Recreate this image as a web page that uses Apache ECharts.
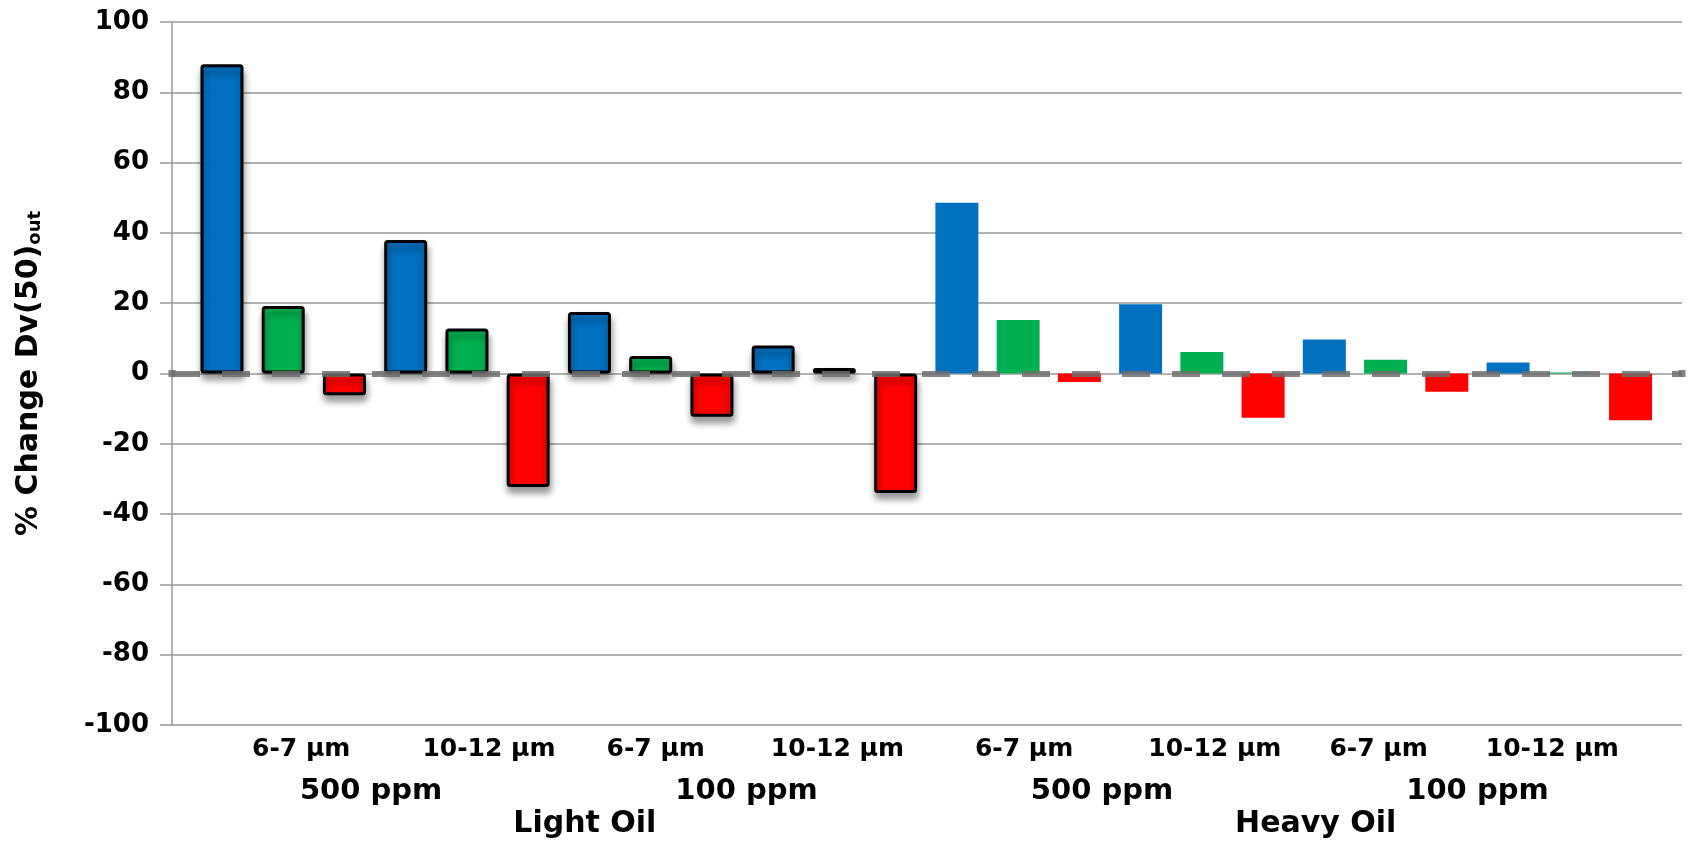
<!DOCTYPE html>
<html>
<head>
<meta charset="utf-8">
<script src="https://cdn.jsdelivr.net/npm/echarts@6/dist/echarts.min.js"></script>
<style>
  html, body { margin: 0; padding: 0; background: #fff; }
  #chart { width: 1696px; height: 845px; }
</style>
</head>
<body>
<div id="chart"></div>
<script>
// ---- data ----
const sizeLabels = ['6-7 µm', '10-12 µm', '6-7 µm', '10-12 µm', '6-7 µm', '10-12 µm', '6-7 µm', '10-12 µm'];
const concLabels = ['500 ppm', '100 ppm', '500 ppm', '100 ppm'];
const oilLabels = ['Light Oil', 'Heavy Oil'];
const blueValues = [88, 38, 17.5, 8, 48.6, 19.7, 9.7, 3.1];
const greenValues = [19.2, 12.8, 5, 1.6, 15.2, 6.1, 3.9, 0.3];
const redValues = [-6.2, -32.3, -12.3, -34, -2.4, -12.6, -5.2, -13.3];
const yMin = -100, yMax = 100, yStep = 20;

// ---- layout / style ----
const FONT = 'DejaVu Sans';
const colors = ['#0070C0', '#00B050', '#FF0000'];
const gridLeft = 172, gridRight = 14, gridTop = 22, gridBottom = 120;
const xMin = -0.816, xMax = 23.84;
const pxPerUnit = (1696 - gridLeft - gridRight) / (xMax - xMin);
// small horizontal nudges (px) of the hand-placed labels in the picture
const sizeNudge = [18, 22, 5, 3, 6, 13, -7, -17];
const concNudge = [-4, 4, -8, 0];
const oilNudge = [26, 22];

const nGroups = blueValues.length;
const sizePos = sizeLabels.map((_, g) => 3 * g + 1 + sizeNudge[g] / pxPerUnit);
const concPos = concLabels.map((_, p) => 6 * p + 2.5 + concNudge[p] / pxPerUnit);
const oilPos = oilLabels.map((_, o) => 12 * o + 5.5 + oilNudge[o] / pxPerUnit);

function lookup(positions, labels) {
  return function (v) {
    let best = 0, bd = Infinity;
    positions.forEach((p, i) => { const d = Math.abs(p - v); if (d < bd) { bd = d; best = i; } });
    return labels[best];
  };
}

function buildSeriesData(values, s) {
  return values.map((v, g) => {
    const light = g < nGroups / 2;
    const item = { value: [3 * g + s, v] };
    item.itemStyle = light ? {
      color: colors[s], borderColor: '#000', borderWidth: 3, borderRadius: 2,
      shadowColor: 'rgba(0,0,0,0.4)', shadowBlur: 7, shadowOffsetX: 1, shadowOffsetY: 6
    } : { color: colors[s], borderWidth: 0 };
    return item;
  });
}

function labelAxis(positions, labels, fontSize, margin) {
  return {
    type: 'value', min: xMin, max: xMax, position: 'bottom',
    axisLine: { show: false, onZero: false }, axisTick: { show: false }, splitLine: { show: false },
    axisLabel: {
      customValues: positions, formatter: lookup(positions, labels),
      fontFamily: FONT, fontWeight: 'bold', fontSize: fontSize, color: '#000', margin: margin,
      showMinLabel: true, showMaxLabel: true, hideOverlap: false
    }
  };
}

const seriesValues = [blueValues, greenValues, redValues];
const series = seriesValues.map((vals, s) => ({
  type: 'bar', xAxisIndex: 0, yAxisIndex: 0,
  barWidth: 43, barGap: '-100%',
  data: buildSeriesData(vals, s),
  z: 2
}));
series[0].markLine = {
  silent: true, animation: false,
  symbol: ['rect', 'rect'], symbolSize: 7,
  label: { show: false },
  lineStyle: { type: [28, 22], width: 6, color: 'rgba(110,110,110,0.85)' },
  data: [{ yAxis: 0 }]
};

const chart = echarts.init(document.getElementById('chart'), null, { renderer: 'canvas' });
chart.setOption({
  animation: false,
  backgroundColor: '#fff',
  grid: { left: gridLeft, right: gridRight, top: gridTop, bottom: gridBottom, containLabel: false, outerBoundsMode: 'none' },
  xAxis: [
    { type: 'value', min: xMin, max: xMax, show: false, axisLine: { onZero: false } },
    labelAxis(sizePos, sizeLabels, 25, 12),
    labelAxis(concPos, concLabels, 29, 52),
    labelAxis(oilPos, oilLabels, 30, 84)
  ],
  yAxis: {
    type: 'value', min: yMin, max: yMax, interval: yStep,
    axisLine: { show: true, onZero: false, lineStyle: { color: '#999', width: 1.5 } },
    axisTick: { show: true, length: 12, lineStyle: { color: '#999', width: 1.5 } },
    splitLine: { show: true, lineStyle: { color: '#999', width: 1.5 } },
    axisLabel: { fontFamily: FONT, fontWeight: 'bold', fontSize: 26, color: '#000', margin: 23 },
    name: '{m|% Change Dv(50)}{s|out}',
    nameLocation: 'middle', nameRotate: 90, nameGap: 128,
    nameTextStyle: {
      rich: {
        m: { fontFamily: FONT, fontWeight: 'bold', fontSize: 30, color: '#000', verticalAlign: 'bottom' },
        s: { fontFamily: FONT, fontWeight: 'bold', fontSize: 18, color: '#000', verticalAlign: 'bottom' }
      }
    }
  },
  series: series
});
</script>
</body>
</html>
